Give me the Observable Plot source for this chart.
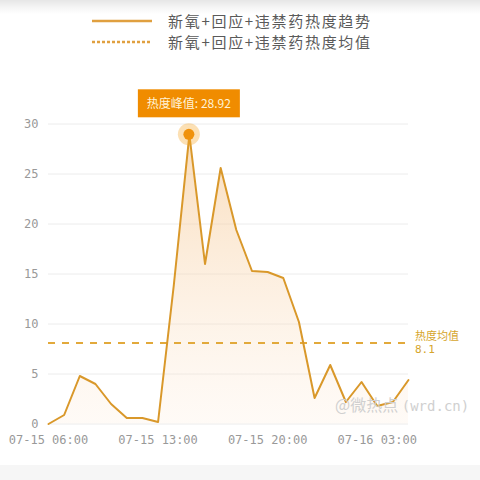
<!DOCTYPE html>
<html>
<head>
<meta charset="utf-8">
<script src="https://cdn.jsdelivr.net/npm/d3@7"></script>
<script src="https://cdn.jsdelivr.net/npm/@observablehq/plot@0.6"></script>
<style>
  html, body { margin: 0; padding: 0; background: #fff; }
  #wrap { position: relative; width: 480px; height: 480px; overflow: hidden; background: #fff; }
  #legend { position: relative; height: 60px; background: linear-gradient(#e6e6e6 0px, #f6f6f6 8px, #fff 14px); }
  .lg-row { position: absolute; left: 92px; display: flex; align-items: center; font-family: "Noto Sans CJK SC", sans-serif; font-size: 15px; letter-spacing: 1.7px; color: #5a5a5a; }
  .lg-row svg { margin-right: 16px; }
  #chart { position: absolute; left: 0; top: 60px; }
  #wm { position: absolute; left: 335px; top: 392px; font-family: "Noto Sans CJK SC", sans-serif; font-size: 16px; color: #d0d0d0; white-space: nowrap; }
  #wm span { font-family: "DejaVu Sans Mono", monospace; font-size: 14px; }
  #bottomband { position: absolute; left: 0; top: 465px; width: 480px; height: 15px; background: #f6f6f6; }
</style>
</head>
<body>
<div id="wrap">
  <div id="legend">
    <div class="lg-row" style="top:10px"><svg width="60" height="4"><line x1="0" y1="2" x2="60" y2="2" stroke="#e0a040" stroke-width="2.5"/></svg><span>新氧+回应+违禁药热度趋势</span></div>
    <div class="lg-row" style="top:31px"><svg width="60" height="4"><line x1="0" y1="2" x2="60" y2="2" stroke="#e0a040" stroke-width="2.5" stroke-dasharray="3,2"/></svg><span>新氧+回应+违禁药热度均值</span></div>
  </div>
  <div id="chart"></div>
  <div id="wm">@微热点 <span>(wrd.cn)</span></div>
  <div id="bottomband"></div>
</div>
<script>
const times = [
  "07-15 06:00","07-15 07:00","07-15 08:00","07-15 09:00","07-15 10:00","07-15 11:00",
  "07-15 12:00","07-15 13:00","07-15 14:00","07-15 15:00","07-15 16:00","07-15 17:00",
  "07-15 18:00","07-15 19:00","07-15 20:00","07-15 21:00","07-15 22:00","07-15 23:00",
  "07-16 00:00","07-16 01:00","07-16 02:00","07-16 03:00","07-16 04:00","07-16 05:00"
];
const heat = [0, 0.9, 4.8, 4.0, 2.0, 0.6, 0.6, 0.2, 13.8, 28.92, 16.0, 25.6, 19.4, 15.3, 15.2, 14.6, 10.2, 2.6, 5.9, 2.2, 4.2, 1.8, 2.2, 4.4];
const xTicks = ["07-15 06:00","07-15 13:00","07-15 20:00","07-16 03:00"];
const yTicks = [0, 5, 10, 15, 20, 25, 30];
const meanValue = 8.1;
const peakLabel = "热度峰值: ";
const meanLabel = "热度均值";

const parseT = (s) => d3.utcParse("%Y-%m-%d %H:%M")("2024-" + s);
const fmtT = d3.utcFormat("%m-%d %H:%M");
const data = times.map((t, i) => ({t: parseT(t), v: heat[i]}));
const peak = data.reduce((a, b) => (b.v > a.v ? b : a));

const peakMark = (index, scales, values, dimensions) => {
  const g = d3.create("svg:g");
  const px = scales.x(peak.t), py = scales.y(peak.v);
  g.append("circle").attr("cx", px).attr("cy", py).attr("r", 11).attr("fill", "rgba(246,166,40,0.35)");
  g.append("circle").attr("cx", px).attr("cy", py).attr("r", 5.5).attr("fill", "#f0920c");
  const w = 102, h = 28, gap = 17;
  g.append("rect").attr("x", px - w / 2).attr("y", py - gap - h).attr("width", w).attr("height", h).attr("fill", "#f08c00");
  g.append("text").attr("x", px).attr("y", py - gap - h / 2).attr("dy", "0.35em")
    .attr("text-anchor", "middle").attr("fill", "#fff3d6")
    .style("font-family", "'Noto Sans CJK SC', sans-serif").style("font-size", "12px")
    .text(peakLabel + peak.v.toFixed(2));
  return g.node();
};

const meanTextMark = (index, scales, values, dimensions) => {
  const g = d3.create("svg:g");
  const x = dimensions.width - dimensions.marginRight + 7;
  const y = scales.y(meanValue);
  const t = g.append("text").attr("fill", "#d6a52c").attr("text-anchor", "start")
    .style("font-family", "'Noto Sans CJK SC', sans-serif").style("font-size", "11px");
  t.append("tspan").attr("x", x).attr("y", y - 3).text(meanLabel);
  t.append("tspan").attr("x", x).attr("y", y + 10)
    .style("font-family", "'DejaVu Sans Mono', monospace").text(String(meanValue));
  return g.node();
};

const plot = Plot.plot({
  width: 480,
  height: 420,
  marginLeft: 48,
  marginRight: 72,
  marginTop: 63.5,
  marginBottom: 56.5,
  style: {fontFamily: "'DejaVu Sans Mono', monospace", fontSize: "12px", color: "#999", background: "transparent", overflow: "visible"},
  x: {type: "utc", domain: [data[0].t, data[data.length - 1].t], label: null, ticks: xTicks.map(parseT), tickFormat: fmtT, tickSize: 0, tickPadding: 11},
  y: {domain: [0, 30], ticks: yTicks, label: null, tickSize: 0, tickPadding: 10},
  marks: [
    Plot.gridY(yTicks, {stroke: "#ececec", strokeOpacity: 1}),
    Plot.areaY(data, {x: "t", y: "v", fill: "url(#heatGrad)"}),
    Plot.ruleY([meanValue], {stroke: "#e2a93b", strokeWidth: 2, strokeDasharray: "7,7"}),
    Plot.lineY(data, {x: "t", y: "v", stroke: "#d9982a", strokeWidth: 2}),
    peakMark,
    meanTextMark
  ]
});

const defs = d3.select(plot).insert("defs", ":first-child");
const grad = defs.append("linearGradient").attr("id", "heatGrad").attr("x1", 0).attr("y1", 0).attr("x2", 0).attr("y2", 1);
grad.append("stop").attr("offset", "0%").attr("stop-color", "#f5c68f").attr("stop-opacity", 0.6);
grad.append("stop").attr("offset", "100%").attr("stop-color", "#fde8d4").attr("stop-opacity", 0.2);

document.getElementById("chart").appendChild(plot);
</script>
</body>
</html>
